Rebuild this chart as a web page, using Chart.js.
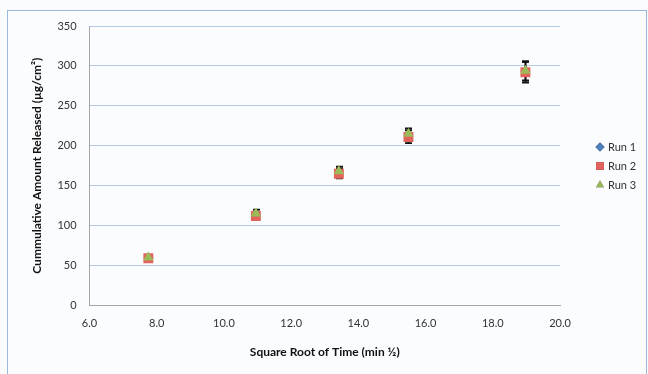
<!DOCTYPE html>
<html>
<head>
<meta charset="utf-8">
<script src="https://cdn.jsdelivr.net/npm/chart.js@4/dist/chart.umd.min.js"></script>
<style>
  html, body { margin: 0; padding: 0; background: #ffffff; }
  #wrap { position: relative; width: 648px; height: 374px; overflow: hidden; background: #fbfcfe; }
  #frame { position: absolute; left: 7px; top: 10px; width: 640px; height: 380px;
           border: 1px solid #9bb9de; box-sizing: border-box; pointer-events: none; }
  canvas { position: absolute; left: 0; top: 0; }
</style>
</head>
<body>
<div id="wrap">
  <canvas id="c" width="648" height="374"></canvas>
  <div id="frame"></div>
</div>
<script>
// Square root of sampling time (min^1/2)
const sqrtTime = [7.75, 10.95, 13.42, 15.49, 18.97];

// Cumulative amount released (µg/cm²) per run
const run1 = [60, 113, 166, 213, 293];
const run2 = [59, 112, 165, 211, 292];
const run3 = [60, 115, 168, 215, 294];

// Error bar half-widths (µg/cm²) per run
const err1 = [3, 5, 6, 8, 12];
const err2 = [3, 5, 6, 8, 13];
const err3 = [3, 5, 6, 7, 12];

const seriesNames = ['Run 1', 'Run 2', 'Run 3'];
const xTicks = [6, 8, 10, 12, 14, 16, 18, 20];
const yTicks = [0, 50, 100, 150, 200, 250, 300, 350];

const toPoints = (ys) => sqrtTime.map((x, i) => ({ x: x, y: ys[i] }));

const font = "'Lato', 'Open Sans', sans-serif";

// Vertical error bars with caps, drawn underneath the markers
const errorBars = {
  id: 'errorBars',
  beforeDatasetsDraw(chart) {
    const ctx = chart.ctx;
    const ys = chart.scales.y;
    const xs = chart.scales.x;
    ctx.save();
    ctx.strokeStyle = '#111111';
    ctx.lineWidth = 1.5;
    chart.data.datasets.forEach((ds) => {
      ds.data.forEach((p, i) => {
        const e = ds.errors[i];
        const px = Math.round(xs.getPixelForValue(p.x)) + 0.5;
        const top = ys.getPixelForValue(p.y + e);
        const bot = ys.getPixelForValue(p.y - e);
        ctx.beginPath();
        ctx.moveTo(px, top); ctx.lineTo(px, bot);
        ctx.moveTo(px - 3.5, top); ctx.lineTo(px + 3.5, top);
        ctx.moveTo(px - 3.5, bot); ctx.lineTo(px + 3.5, bot);
        ctx.stroke();
      });
    });
    ctx.restore();
  }
};

// Legend to the right of the plot area
const sideLegend = {
  id: 'sideLegend',
  afterDraw(chart) {
    const ctx = chart.ctx;
    const x0 = 600, y0 = 147, step = 19;
    ctx.save();
    ctx.font = '11px ' + font;
    ctx.textBaseline = 'middle';
    ctx.textAlign = 'left';
    chart.data.datasets.forEach((ds, i) => {
      const y = y0 + i * step;
      Chart.helpers.drawPoint(ctx, {
        pointStyle: ds.pointStyle,
        radius: ds.pointStyle === 'rect' ? 5.5 : 4.5,
        borderWidth: 0,
        rotation: 0
      }, x0, y);
      ctx.fillStyle = ds.backgroundColor;
      ctx.fill();
      ctx.fillStyle = '#333333';
      ctx.fillText(ds.label, x0 + 8, y + 0.5);
    });
    ctx.restore();
  }
};

new Chart(document.getElementById('c'), {
  type: 'scatter',
  data: {
    datasets: [
      { label: seriesNames[0], data: toPoints(run1), errors: err1, order: 2,
        pointStyle: 'rectRot', pointRadius: 5, backgroundColor: '#4f81bd', borderColor: '#4f81bd', borderWidth: 0 },
      { label: seriesNames[1], data: toPoints(run2), errors: err2, order: 1,
        pointStyle: 'rect', pointRadius: 7, backgroundColor: '#e2625c', borderColor: '#e2625c', borderWidth: 0 },
      { label: seriesNames[2], data: toPoints(run3), errors: err3, order: 0,
        pointStyle: 'triangle', pointRadius: 6, backgroundColor: '#9bbb59', borderColor: '#9bbb59', borderWidth: 0 }
    ]
  },
  options: {
    responsive: false,
    animation: false,
    layout: { padding: { top: 26, right: 88, bottom: 11, left: 26 } },
    plugins: {
      legend: { display: false },
      tooltip: { enabled: false }
    },
    scales: {
      x: {
        type: 'linear',
        min: xTicks[0], max: xTicks[xTicks.length - 1],
        afterBuildTicks: (s) => { s.ticks = xTicks.map(v => ({ value: v })); },
        ticks: { callback: (v) => Number(v).toFixed(1), color: '#333333', padding: 11,
                 font: { family: font, size: 11 }, maxRotation: 0 },
        grid: { display: false, drawTicks: false },
        border: { color: '#a6a6a6', width: 1 },
        title: { display: true, text: 'Square Root of Time (min ½)', color: '#111111',
                 font: { family: font, size: 12, weight: 'bold' }, padding: { top: 4 } }
      },
      y: {
        type: 'linear',
        min: yTicks[0], max: yTicks[yTicks.length - 1],
        afterBuildTicks: (s) => { s.ticks = yTicks.map(v => ({ value: v })); },
        ticks: { color: '#333333', padding: 13, font: { family: font, size: 11 } },
        grid: { color: '#b7cbe3', drawTicks: false },
        border: { color: '#a6a6a6', width: 1 },
        title: { display: true, text: 'Cummulative Amount Released (µg/cm²)', color: '#111111',
                 font: { family: font, size: 12, weight: 'bold' }, padding: { bottom: 0 } }
      }
    }
  },
  plugins: [errorBars, sideLegend]
});
</script>
</body>
</html>
